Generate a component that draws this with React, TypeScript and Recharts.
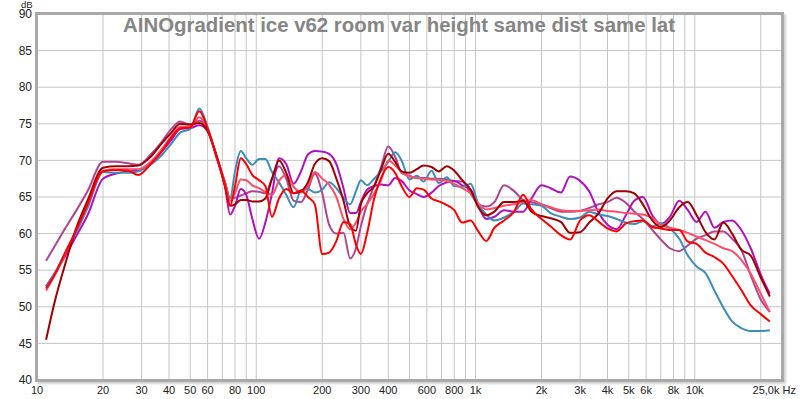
import React from 'react';
import { LineChart, Line, XAxis, YAxis, CartesianGrid } from 'recharts';

const freqs = [11,12,13.5,15,17,20,23,26,29,33,37,41,45,50,55,60,66,72,76,80,85,90,96,103,110,118,127,137,148,160,172,185,200,215,232,250,268,285,300,320,345,370,400,430,460,500,540,580,630,680,740,800,870,950,1030,1120,1220,1350,1500,1650,1800,2000,2200,2450,2700,3000,3300,3650,4000,4400,4850,5300,5800,6400,7000,7700,8500,9300,10200,11200,12300,13500,14800,16300,18000,20000,22000];

const blue = [52.8,54.5,57.5,60.0,63.5,
68.4,68.3,68.3,68.5,69.4,
70.7,72.3,73.8,74.3,77.1,
74.6,70.5,67.0,64.8,68.5,
71.3,70.3,69.4,70.2,70.2,
68.4,67.0,65.3,63.6,65.9,
66.1,65.6,66.0,67.0,66.2,
64.9,64.0,65.8,67.3,66.6,
67.5,68.5,69.8,71.1,70.0,
67.4,67.9,67.1,68.6,66.9,
67.7,66.5,66.4,66.8,64.0,
62.6,61.8,62.2,63.0,64.1,
64.0,63.8,62.8,62.3,62.0,
62.2,63.0,62.6,62.4,62.0,
61.5,61.3,61.7,61.0,61.4,
60.7,59.3,57.0,55.5,54.6,
52.2,49.9,48.0,47.1,46.7,
46.7,46.8];

const darkRed = [45.5,50.5,56.0,60.5,64.5,
69.0,69.2,69.2,69.3,70.5,
72.3,73.8,75.0,74.9,75.1,
74.0,70.6,66.5,63.8,64.0,
64.6,64.6,64.4,64.4,64.8,
67.5,70.0,68.3,65.5,65.8,
67.0,69.5,70.3,69.9,67.5,
64.5,61.0,60.4,64.0,65.5,
66.5,68.7,70.9,69.8,68.5,
68.3,68.8,69.3,69.1,68.5,
69.2,68.6,67.3,66.0,63.6,
62.5,63.0,64.3,64.3,64.5,
63.0,62.4,62.1,61.6,60.1,
60.2,61.5,62.8,64.8,65.8,
65.8,65.5,64.0,61.8,60.9,
61.8,63.6,64.3,62.5,60.2,
59.2,61.5,60.0,57.8,57.0,
54.0,51.4];

const red = [52.5,54.3,57.5,60.3,64.0,
68.5,68.7,68.6,68.0,69.5,
71.2,73.1,74.4,74.5,76.7,
74.3,70.5,66.5,63.8,66.5,
70.3,69.5,68.0,67.3,66.5,
62.3,64.8,66.1,65.5,65.9,
65.0,64.0,57.2,57.4,59.0,
61.6,61.3,58.5,57.2,60.0,
64.8,67.5,69.1,68.3,66.5,
65.0,66.2,66.0,64.8,64.4,
63.9,63.2,61.5,61.8,60.3,
59.0,60.8,61.8,63.0,65.3,
63.3,62.0,61.0,59.8,59.2,
61.8,62.5,61.6,60.7,60.3,
61.4,61.7,61.8,60.9,60.7,
60.5,60.5,58.9,58.6,57.4,
56.8,55.9,54.2,52.3,50.2,
49.0,48.0];

const pink = [52.2,54.2,57.3,60.3,64.0,
68.6,68.8,68.8,68.8,69.8,
71.5,73.3,74.6,74.6,75.9,
74.3,70.5,67.0,64.5,65.5,
67.4,67.3,66.6,66.2,65.7,
65.3,67.2,68.0,66.4,65.6,
66.5,68.4,67.5,66.7,65.0,
62.0,60.6,61.5,63.0,64.0,
65.5,67.2,70.0,69.3,68.4,
67.8,67.6,67.5,67.4,67.3,
67.2,66.8,66.2,65.5,64.1,
63.3,63.5,63.8,64.0,64.3,
64.6,64.0,63.6,63.2,63.1,
63.1,63.2,63.3,63.1,63.0,
62.8,62.7,62.6,62.1,61.2,
60.8,60.5,60.1,59.6,59.1,
58.6,58.0,57.6,56.4,54.5,
51.8,49.3];

const mauve = [56.3,58.2,60.8,63.0,65.8,
69.8,69.8,69.6,69.4,70.8,
72.5,74.3,75.3,74.9,75.4,
74.2,70.5,67.0,64.9,64.9,
65.2,65.5,65.8,65.7,65.5,
67.5,69.2,67.5,64.5,64.3,
66.0,68.2,65.5,61.2,60.0,
60.1,56.6,58.0,61.0,64.0,
66.5,69.0,71.9,70.5,68.3,
67.9,67.6,67.6,67.5,67.5,
67.4,67.2,67.1,65.5,64.0,
63.7,64.3,66.6,65.8,64.6,
64.3,64.0,63.5,63.0,63.0,
63.1,63.5,64.0,64.3,64.9,
64.2,63.0,62.0,60.5,59.2,
58.0,57.6,58.4,59.3,59.8,
60.3,60.3,59.3,57.8,54.3,
51.0,49.3];

const purple = [52.8,54.5,57.0,59.5,62.5,
67.5,68.2,68.5,68.6,69.6,
71.2,72.8,74.3,74.4,74.8,
74.0,70.3,66.5,62.6,63.8,
66.1,65.3,62.0,59.3,61.5,
65.5,70.3,69.5,66.8,68.5,
70.8,71.3,71.2,70.9,69.5,
66.2,62.8,62.8,64.3,66.0,
66.5,66.7,66.6,67.6,67.2,
65.9,65.4,65.0,65.6,66.5,
67.0,67.2,66.6,66.0,63.8,
62.0,62.3,63.2,63.0,63.0,
64.8,66.6,66.2,65.6,67.8,
67.2,65.8,62.8,61.2,60.6,
62.5,64.5,65.0,62.5,61.3,
62.3,64.5,63.2,61.6,63.0,
60.8,61.6,61.8,60.5,58.0,
54.4,51.8];

const seriesDefs = [
  { key: 'mauve', values: mauve, color: '#b04490' },
  { key: 'purple', values: purple, color: '#b010c0' },
  { key: 'blue', values: blue, color: '#3b8dbd' },
  { key: 'pink', values: pink, color: '#ff4d6a' },
  { key: 'darkRed', values: darkRed, color: '#a00000' },
  { key: 'red', values: red, color: '#ff0000' },
];

const data = freqs.map((f, i) => {
  const row: Record<string, number> = { f };
  seriesDefs.forEach((s) => { row[s.key] = s.values[i]; });
  return row;
});

const gridFreqs = [10,20,30,40,50,60,70,80,90,100,200,300,400,500,600,700,800,900,1000,2000,3000,4000,5000,6000,7000,8000,9000,10000,20000,25000];
const xLabels: Record<number, string> = {
  10: '10', 20: '20', 30: '30', 40: '40', 50: '50', 60: '60', 80: '80', 100: '100',
  200: '200', 300: '300', 400: '400', 600: '600', 800: '800', 1000: '1k', 2000: '2k',
  3000: '3k', 4000: '4k', 5000: '5k', 6000: '6k', 8000: '8k', 10000: '10k', 25000: '25,0k Hz',
};
const yTicks = [40,45,50,55,60,65,70,75,80,85,90];
const title = 'AINOgradient ice v62 room var height same dist same lat';

const FONT = '"Liberation Sans", Arial, sans-serif';

function XTick(props: any) {
  const { x, y, payload } = props;
  const label = xLabels[payload.value];
  if (!label) return <g />;
  const last = payload.value === 25000;
  return (
    <text x={last ? x + 14 : x} y={y} dy="0.71em" textAnchor={last ? 'end' : 'middle'}
      fontSize={11} fill="#222" fontFamily={FONT}>{label}</text>
  );
}

export default function App() {
  return (
    <div style={{ position: 'absolute', left: 0, top: 0, width: 800, height: 399, background: '#fff' }}>
      <LineChart width={800} height={399} data={data} margin={{ top: 14, right: 18, bottom: 0, left: 0 }}>
        <CartesianGrid stroke="#c6c6c6" strokeWidth={1} />
        <XAxis dataKey="f" type="number" scale="log" domain={[10, 25000]} ticks={gridFreqs}
          interval={0} axisLine={false} tickLine={false} tickSize={0} tickMargin={6}
          height={19} tick={<XTick />} allowDataOverflow />
        <YAxis type="number" domain={[40, 90]} ticks={yTicks} interval={0} axisLine={false}
          tickLine={false} tickSize={0} tickMargin={5} width={37}
          tick={{ fontSize: 12, fill: '#222', fontFamily: FONT }} allowDataOverflow />
        {seriesDefs.map((s) => (
          <Line key={s.key} dataKey={s.key} type="monotone" stroke={s.color} strokeWidth={2}
            dot={false} activeDot={false} isAnimationActive={false} />
        ))}
      </LineChart>
      <div style={{ position: 'absolute', left: 35, top: 12, width: 749, height: 370, boxSizing: 'border-box',
        border: '3px solid #a9a9a9', boxShadow: '2px 2px 2px rgba(0,0,0,0.18)', pointerEvents: 'none' }} />
      <svg width={800} height={399} style={{ position: 'absolute', left: 0, top: 0, pointerEvents: 'none' }}>
        <text x={399} y={32} textAnchor="middle" fontSize={20.4} fontWeight="bold" fill="#858585" fontFamily={FONT}>{title}</text>
        <text x={21} y={8} fontSize={9.5} fill="#222" fontFamily={FONT}>dB</text>
      </svg>
    </div>
  );
}
